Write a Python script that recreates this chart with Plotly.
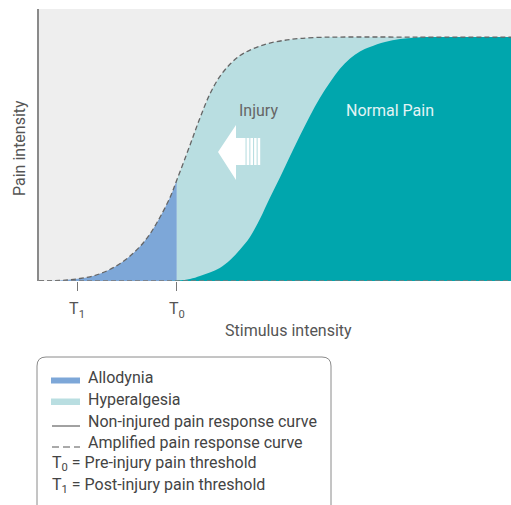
import plotly.graph_objects as go

# ---- data (stimulus 0-100, pain 0-100 plateau) ----
stim_amp = [0, 4.4, 6.6, 8.7, 10.8, 12.9, 15.0, 17.2, 19.3, 21.4, 23.5, 25.6, 27.8,
            29.2, 32.0, 34.1, 36.2, 38.3, 40.5, 42.6, 44.7, 46.8, 48.9, 52.1,
            55.3, 59.5, 63.8, 80, 100]
pain_amp = [0, 0.2, 0.57, 1.02, 1.72, 2.95, 4.71, 7.17, 10.25, 14.14, 19.26, 26.02,
            34.43, 41.39, 55.74, 66.80, 76.64, 83.81, 88.93, 92.42, 94.67, 96.31,
            97.54, 98.69, 99.43, 99.88, 100, 100, 100]

stim_norm = [0, 29.2, 32.0, 34.1, 36.2, 38.3, 40.5, 42.6, 44.7, 46.8, 48.9, 51.1,
             53.2, 55.3, 57.4, 59.5, 61.7, 63.8, 65.9, 68.0, 70.1, 73.3, 76.5,
             79.7, 82.8, 100]
pain_norm = [0, 0.2, 0.82, 2.05, 3.48, 5.33, 8.61, 12.91, 18.03, 25.41, 34.02, 42.62,
             51.23, 59.63, 67.62, 75.0, 81.56, 87.09, 91.19, 94.06, 95.90, 97.95,
             99.18, 99.75, 100, 100]

T1 = 8.05
T0 = 29.2
tick_vals = [T1, T0]
tick_text = ["T<sub>1</sub>", "T<sub>0</sub>"]

legend_labels = ["Allodynia", "Hyperalgesia", "Non-injured pain response curve",
                 "Amplified pain response curve",
                 "T<sub>0</sub> = Pre-injury pain threshold",
                 "T<sub>1</sub> = Post-injury pain threshold"]

C_BG = "#eeeeee"
C_ALLO = "#7da7d8"
C_HYPER = "#b9dee1"
C_NORM = "#00a6ad"
C_DASH = "#666666"
FONT = "Roboto"
FS = 16

# ---- geometry helpers (pixel -> axis / paper) ----
L, R, T, B = 39, 511, 9, 281
XMAX, YMAX = 100, 111.5


def dx(px):
    return (px - L) / (R - L) * XMAX


def dy(py):
    return (B - py) / (B - T) * YMAX


def PX(px):
    return (px - L) / (R - L)


def PY(py):
    return (B - py) / (B - T)


SPL = dict(shape="spline", smoothing=1.0)
fig = go.Figure()

# allodynia: under amplified curve up to T0
allo_x = [x for x in stim_amp if x <= T0]
allo_y = pain_amp[:len(allo_x)]
fig.add_trace(go.Scatter(x=allo_x, y=allo_y, mode="lines", fill="tozeroy",
                         fillcolor=C_ALLO, line=dict(width=0, **SPL),
                         hoverinfo="skip", showlegend=False))
# hyperalgesia: under amplified curve from T0
hx = [x for x in stim_amp if x >= T0]
hy = pain_amp[len(stim_amp) - len(hx):]
fig.add_trace(go.Scatter(x=hx, y=hy, mode="lines", fill="tozeroy",
                         fillcolor=C_HYPER, line=dict(width=0, **SPL),
                         hoverinfo="skip", showlegend=False))
# normal pain
fig.add_trace(go.Scatter(x=stim_norm, y=pain_norm, mode="lines", fill="tozeroy",
                         fillcolor=C_NORM, line=dict(width=0, **SPL),
                         hoverinfo="skip", showlegend=False))
# amplified dashed curve
fig.add_trace(go.Scatter(x=stim_amp, y=pain_amp, mode="lines",
                         line=dict(color=C_DASH, width=1.3, dash="5px,3px", **SPL),
                         hoverinfo="skip", showlegend=False))

shapes = []
# dashed baseline
shapes.append(dict(type="line", xref="x", yref="y", x0=0, x1=XMAX, y0=0, y1=0,
                   line=dict(color="#7a7a7a", width=1.3, dash="5px,3px")))

# white arrow
arrow = (f"M {dx(218)},{dy(152)} L {dx(236)},{dy(125)} L {dx(236)},{dy(138)} "
         f"L {dx(245.5)},{dy(138)} L {dx(245.5)},{dy(165)} L {dx(236)},{dy(165)} "
         f"L {dx(236)},{dy(180)} Z")
shapes.append(dict(type="path", xref="x", yref="y", path=arrow,
                   fillcolor="white", line=dict(width=0)))
for a, b in [(246.6, 249.3), (250.4, 253.0), (254.1, 256.6), (257.7, 260.2)]:
    shapes.append(dict(type="rect", xref="x", yref="y", x0=dx(a), x1=dx(b),
                       y0=dy(165), y1=dy(138), fillcolor="white", line=dict(width=0)))

# legend box (rounded, open at bottom)
box = (f"M {PX(37)},{PY(520)} L {PX(37)},{PY(366)} Q {PX(37)},{PY(357)} {PX(46)},{PY(357)} "
       f"L {PX(322)},{PY(357)} Q {PX(331)},{PY(357)} {PX(331)},{PY(366)} L {PX(331)},{PY(520)}")
shapes.append(dict(type="path", xref="paper", yref="paper", path=box,
                   line=dict(color="#8a8a8a", width=1)))
# swatches
shapes.append(dict(type="rect", xref="paper", yref="paper", x0=PX(51), x1=PX(80),
                   y0=PY(383.5), y1=PY(377.5), fillcolor=C_ALLO, line=dict(width=0)))
shapes.append(dict(type="rect", xref="paper", yref="paper", x0=PX(51), x1=PX(80),
                   y0=PY(405), y1=PY(398.5), fillcolor=C_HYPER, line=dict(width=0)))
shapes.append(dict(type="line", xref="paper", yref="paper", x0=PX(52), x1=PX(80),
                   y0=PY(426), y1=PY(426), line=dict(color="#444", width=1)))
shapes.append(dict(type="line", xref="paper", yref="paper", x0=PX(52), x1=PX(80),
                   y0=PY(447), y1=PY(447), line=dict(color="#555", width=1, dash="7px,4px")))

ann = []
ann.append(dict(text="Injury", x=dx(258.5), y=dy(110.5), xref="x", yref="y",
                xanchor="center", yanchor="middle",
                showarrow=False, font=dict(family=FONT, size=FS, color="#666666")))
ann.append(dict(text="Normal Pain", x=dx(389.5), y=dy(110.5), xref="x", yref="y",
                xanchor="center", yanchor="middle",
                showarrow=False, font=dict(family=FONT, size=FS, color="#e2f4f5")))
ann.append(dict(text="Pain intensity", x=PX(19), y=PY(148), xref="paper", yref="paper",
                xanchor="center", yanchor="middle",
                textangle=-90, showarrow=False, font=dict(family=FONT, size=FS, color="#555555")))
ann.append(dict(text="Stimulus intensity", x=PX(288.5), y=PY(330), xref="paper", yref="paper",
                xanchor="center", yanchor="middle",
                showarrow=False, font=dict(family=FONT, size=FS, color="#555555")))

leg_y = [377.5, 399, 421.5, 442, 463.5, 485]
leg_x = [86, 86, 86, 86, 50, 50]
for lab, lx, ly in zip(legend_labels, leg_x, leg_y):
    ann.append(dict(text=lab, x=PX(lx), y=PY(ly), xref="paper", yref="paper",
                    xanchor="left", yanchor="middle", showarrow=False,
                    font=dict(family=FONT, size=FS, color="#444444")))

fig.update_layout(
    width=511, height=505,
    margin=dict(l=L, r=0, t=T, b=505 - B, pad=0),
    plot_bgcolor=C_BG, paper_bgcolor="white",
    shapes=shapes, annotations=ann,
    xaxis=dict(range=[0, XMAX], showgrid=False, zeroline=False, showline=False,
               tickvals=tick_vals, ticktext=tick_text, ticks="outside", ticklen=9,
               tickcolor="#777777", tickwidth=1, ticklabelstandoff=4,
               tickfont=dict(family=FONT, size=FS, color="#555555"), fixedrange=True),
    yaxis=dict(range=[0, YMAX], showgrid=False, zeroline=False, showline=True,
               linecolor="#8a8a8a", linewidth=1.5, showticklabels=False, ticks="",
               fixedrange=True),
    font=dict(family=FONT),
)

fig.write_html("out.html", config={"displayModeBar": False},
               post_script="document.body.style.margin='0px';document.body.style.overflow='hidden';")
